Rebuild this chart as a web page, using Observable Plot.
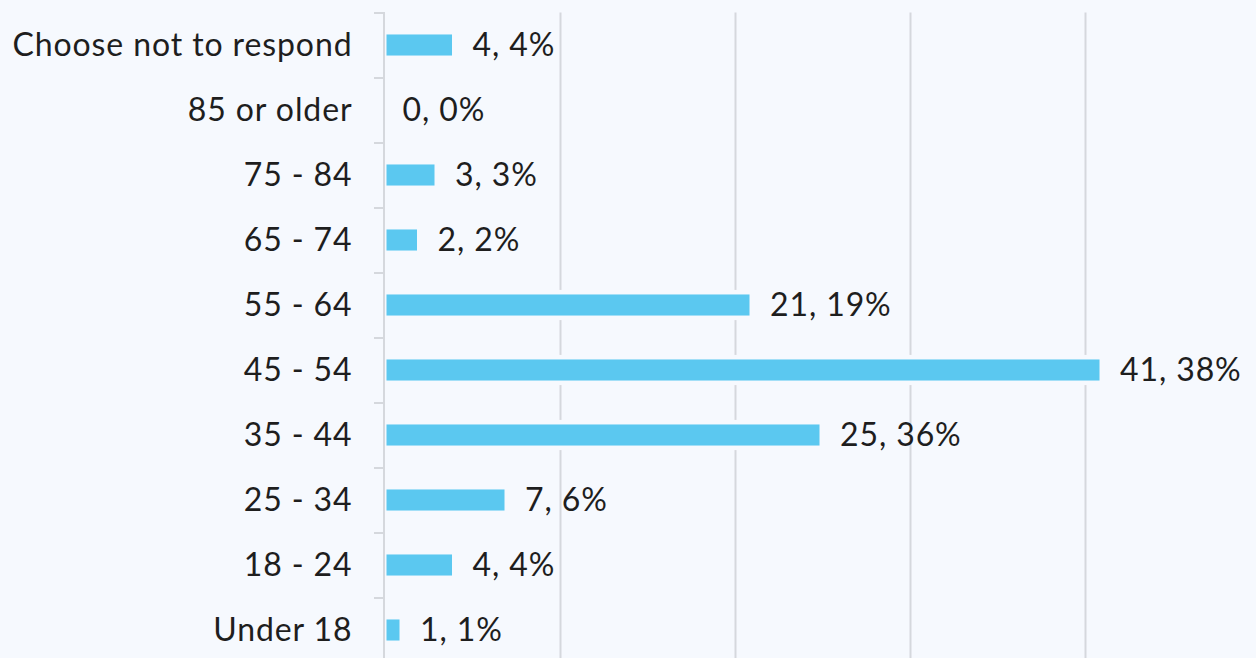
<!DOCTYPE html>
<html>
<head>
<meta charset="utf-8">
<script src="https://cdn.jsdelivr.net/npm/d3@7"></script>
<script src="https://cdn.jsdelivr.net/npm/@observablehq/plot@0.6"></script>
<style>
  html, body { margin: 0; padding: 0; background: #f6f9fe; overflow: hidden; }
  #chart svg { display: block; }
  #chart svg text { letter-spacing: 0.9px; }
</style>
</head>
<body>
<div id="chart"></div>
<script>
const categories = ["Choose not to respond", "85 or older", "75 - 84", "65 - 74", "55 - 64", "45 - 54", "35 - 44", "25 - 34", "18 - 24", "Under 18"];
const counts = [4, 0, 3, 2, 21, 41, 25, 7, 4, 1];
const percents = ["4%", "0%", "3%", "2%", "19%", "38%", "36%", "6%", "4%", "1%"];
const gridTicks = [10, 20, 30, 40];

const rows = categories.map((c, i) => ({i, category: c, count: counts[i], label: `${counts[i]}, ${percents[i]}`}));
const boundaries = d3.range(categories.length + 1).map(k => k - 0.5);

const bg = "#f6f9fe";
const grey = "#d5d8dd";
const half = 0.162;

const chart = Plot.plot({
  width: 1256,
  height: 658,
  marginLeft: 385,
  marginRight: 0,
  marginTop: 0,
  marginBottom: 0,
  style: {background: bg, fontFamily: "Lato, 'Open Sans', sans-serif", fontSize: "32px", color: "#1e1e1e", overflow: "visible"},
  x: {domain: [0, 50], range: [385, 1260], axis: null},
  y: {domain: [-0.5, categories.length - 0.5], range: [12.5, 662.5], axis: null},
  marks: [
    Plot.ruleX(gridTicks, {x: d => d, y1: -0.5, y2: categories.length - 0.5, stroke: grey, strokeWidth: 2}),
    Plot.ruleX([0], {x: d => d, y1: -0.5, y2: categories.length - 0.5, stroke: grey, strokeWidth: 2, dx: -1.5}),
    Plot.axisY({ticks: boundaries, tickSize: 11, tickFormat: () => "", label: null, stroke: grey, strokeWidth: 2, anchor: "left"}),
    Plot.axisY({ticks: d3.range(categories.length), tickSize: 0, tickPadding: 33, tickFormat: i => categories[i], label: null, anchor: "left", fontSize: 32, fill: "#1e1e1e"}),
    Plot.rect(rows.filter(d => d.count > 0), {x1: 0, x2: "count", y1: d => d.i - half - 0.07, y2: d => d.i + half + 0.07, fill: bg, insetLeft: 1.5, insetRight: 3}),
    Plot.rect(rows.filter(d => d.count > 0), {x1: 0, x2: "count", y1: d => d.i - half, y2: d => d.i + half, fill: "#5bc8f0", insetLeft: 1.5, insetRight: 3}),
    Plot.text(rows, {x: "count", y: "i", text: "label", textAnchor: "start", dx: 17, fontSize: 32, fill: "#1e1e1e"})
  ]
});
document.getElementById("chart").appendChild(chart);
</script>
</body>
</html>
